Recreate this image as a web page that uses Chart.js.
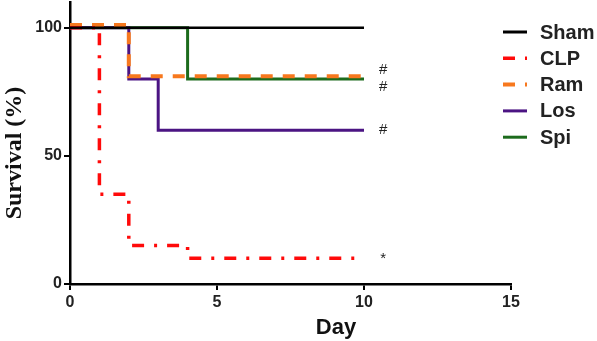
<!DOCTYPE html>
<html>
<head>
<meta charset="utf-8">
<script src="https://cdn.jsdelivr.net/npm/chart.js@4.4.1/dist/chart.umd.min.js"></script>
<style>
html,body{margin:0;padding:0;background:#fff;}
#wrap{width:597px;height:341px;position:relative;}
</style>
</head>
<body>
<div id="wrap"><canvas id="c" width="597" height="341"></canvas></div>
<script>
// ---- data ----
const seriesNames = ['Sham', 'CLP', 'Ram', 'Los', 'Spi'];
const shamDays = [0, 10];
const shamSurv = [100, 100];
const clpDays = [0, 1, 2, 4, 10];
const clpSurv = [100, 35, 15, 10, 10];
const ramDays = [0, 2, 10];
const ramSurv = [101, 81, 81];
const losDays = [0, 2, 3, 10];
const losSurv = [100, 80, 60, 60];
const spiDays = [0, 4, 10];
const spiSurv = [100, 80, 80];
const xTicks = [0, 5, 10, 15];
const yTicks = [0, 50, 100];
const marks = ['#', '#', '#', '*'];
const markDays = [10.65, 10.65, 10.65, 10.65];
const markSurv = [83.5, 77, 60, 10];

function pts(xs, ys) { return xs.map((x, i) => ({x: x, y: ys[i]})); }

const styles = [
  {color: '#000000', width: 2.5, dash: []},
  {color: '#ff0a0a', width: 3.5, dash: [12, 10, 3, 10]},
  {color: '#f7781e', width: 4, dash: [12, 10]},
  {color: '#4b1483', width: 3, dash: []},
  {color: '#1c6b1c', width: 3, dash: []}
];
const allData = [pts(shamDays, shamSurv), pts(clpDays, clpSurv), pts(ramDays, ramSurv), pts(losDays, losSurv), pts(spiDays, spiSurv)];

const datasets = seriesNames.map((n, i) => ({
  label: n,
  data: allData[i],
  borderColor: styles[i].color,
  backgroundColor: styles[i].color,
  borderWidth: styles[i].width,
  borderDash: styles[i].dash,
  stepped: true,
  pointRadius: 0,
  fill: false,
  clip: 8
}));

const extras = {
  id: 'extras',
  afterDraw(chart) {
    const ctx = chart.ctx;
    const xs = chart.scales.x, ys = chart.scales.y;
    ctx.save();
    // annotations
    ctx.fillStyle = '#222';
    ctx.textAlign = 'center';
    ctx.textBaseline = 'middle';
    marks.forEach((m, i) => {
      ctx.font = '15px "Liberation Sans", Arial, sans-serif';
      ctx.fillText(m, xs.getPixelForValue(markDays[i]), ys.getPixelForValue(markSurv[i]));
    });
    // axis titles
    ctx.fillStyle = '#111';
    ctx.font = 'bold 22px "Liberation Sans", Arial, sans-serif';
    ctx.textAlign = 'center';
    ctx.textBaseline = 'alphabetic';
    ctx.fillText('Day', 336, 334);
    ctx.save();
    ctx.translate(21, 153);
    ctx.rotate(-Math.PI / 2);
    ctx.font = 'bold 24px "Liberation Serif", "Times New Roman", serif';
    ctx.fillText('Survival (%)', 0, 0);
    ctx.restore();
    // legend
    const lx0 = 503, lx1 = 527, tx = 540, ly0 = 32, dy = 26.3;
    chart.data.datasets.forEach((d, i) => {
      const y = ly0 + i * dy;
      ctx.save();
      ctx.strokeStyle = d.borderColor;
      ctx.lineWidth = Math.max(3, d.borderWidth);
      ctx.setLineDash(d.borderDash || []);
      ctx.beginPath();
      ctx.moveTo(lx0, y);
      ctx.lineTo(lx1, y);
      ctx.stroke();
      ctx.restore();
      ctx.fillStyle = '#222';
      ctx.font = 'bold 20px "Liberation Sans", Arial, sans-serif';
      ctx.textAlign = 'left';
      ctx.textBaseline = 'middle';
      ctx.fillText(d.label, tx, y + 1);
    });
    ctx.restore();
  }
};

new Chart(document.getElementById('c'), {
  type: 'line',
  data: {datasets: datasets},
  plugins: [extras],
  options: {
    responsive: false,
    animation: false,
    layout: {padding: {top: 2, right: 86, left: 0, bottom: 0}},
    plugins: {legend: {display: false}, tooltip: {enabled: false}},
    scales: {
      x: {
        type: 'linear', min: 0, max: 15,
        afterBuildTicks(s) { s.ticks = xTicks.map(v => ({value: v})); },
        afterFit(s) { s.height = 57; s.paddingLeft = 0; s.paddingRight = 0; },
        grid: {display: true, drawOnChartArea: false, drawTicks: true, tickLength: 6, color: '#000', lineWidth: 2},
        border: {display: true, color: '#000', width: 2.5},
        ticks: {color: '#222', font: {family: '"Liberation Sans", Arial, sans-serif', size: 16, weight: 'bold'}, padding: 3, maxRotation: 0, autoSkip: false}
      },
      y: {
        type: 'linear', min: 0, max: 110,
        afterBuildTicks(s) { s.ticks = yTicks.map(v => ({value: v})); },
        afterFit(s) { s.width = 70; s.paddingTop = 0; s.paddingBottom = 0; },
        grid: {display: true, drawOnChartArea: false, drawTicks: true, tickLength: 6, color: '#000', lineWidth: 2},
        border: {display: true, color: '#000', width: 2.5},
        ticks: {color: '#222', font: {family: '"Liberation Sans", Arial, sans-serif', size: 16, weight: 'bold'}, padding: 2, autoSkip: false}
      }
    }
  }
});
</script>
</body>
</html>
